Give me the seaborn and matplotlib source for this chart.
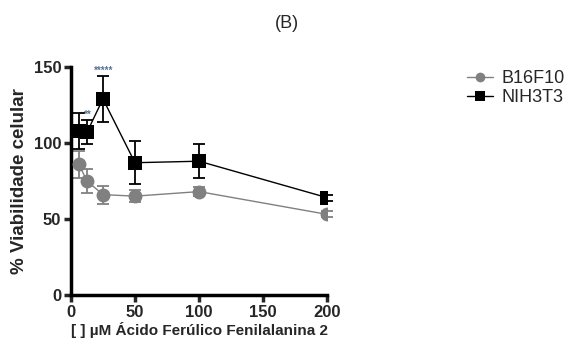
import numpy as np
import pandas as pd
import matplotlib
matplotlib.use("Agg")
import matplotlib.pyplot as plt
import seaborn as sns

# --- data ---
conc = [6.25, 12.5, 25, 50, 100, 200]
b16_mean = [86, 75, 66, 65, 68, 53]
b16_err = [9, 8, 6, 4, 3, 2]
nih_mean = [108, 107, 129, 87, 88, 64]
nih_err = [12, 8, 15, 14, 11, 2]
sig_x = [12.5, 25]
sig_labels = ["**", "*****"]

sns.set_style("white")
plt.rcParams['font.family'] = ['Liberation Sans', 'DejaVu Sans']

df = pd.DataFrame({
    "conc": conc * 2,
    "viab": b16_mean + nih_mean,
    "err": b16_err + nih_err,
    "linha": ["B16F10"] * len(conc) + ["NIH3T3"] * len(conc),
})

fig = plt.figure(figsize=(5.72, 3.49), dpi=100)
ax = fig.add_axes([0.124, 0.155, 0.448, 0.653])

palette = {"B16F10": "#808080", "NIH3T3": "#000000"}
markers = {"B16F10": "o", "NIH3T3": "s"}
sns.lineplot(data=df, x="conc", y="viab", hue="linha", style="linha",
             palette=palette, markers=markers, dashes=False, markersize=10,
             markeredgewidth=0, linewidth=1.0, ax=ax, legend=True, zorder=3)

for name, grp in df.groupby("linha"):
    ax.errorbar(grp["conc"], grp["viab"], yerr=grp["err"], fmt="none",
                ecolor=palette[name], elinewidth=1.3, capsize=4, capthick=1.3,
                zorder=2, clip_on=False)

# significance marks above NIH3T3 error bars
for x, lab in zip(sig_x, sig_labels):
    i = conc.index(x)
    ax.text(x + 0.5, nih_mean[i] + nih_err[i] + 0.5, lab, ha="center", va="bottom",
            fontsize=7, color="#5b7396", fontweight="bold")

ax.set_xlim(0, 200)
ax.set_ylim(0, 150)
ax.set_xticks([0, 50, 100, 150, 200])
ax.set_yticks([0, 50, 100, 150])
for s in ["top", "right"]:
    ax.spines[s].set_visible(False)
for s in ["left", "bottom"]:
    ax.spines[s].set_linewidth(2.5)
    ax.spines[s].set_color("black")
ax.tick_params(axis="both", which="major", length=5, width=2.5, direction="out",
               bottom=True, left=True, labelsize=12, pad=2)
for t in ax.get_xticklabels() + ax.get_yticklabels():
    t.set_fontweight("bold")

ax.set_xlabel("[ ] \u00b5M \u00c1cido Fer\u00falico Fenilalanina 2", fontsize=11,
              fontweight="bold", labelpad=2)
ax.set_ylabel("% Viabilidade celular", fontsize=13.5, fontweight="bold", labelpad=4)

handles, labels = ax.get_legend_handles_labels()
ax.legend(handles, labels, loc="upper left", bbox_to_anchor=(1.484, 1.057),
          frameon=False, fontsize=13, handlelength=1.4, handletextpad=0.5,
          markerscale=0.7, labelspacing=0.1)

fig.text(0.502, 0.934, "(B)", ha="center", va="center", fontsize=13)

fig.savefig("out.png", dpi=100)
plt.close(fig)
